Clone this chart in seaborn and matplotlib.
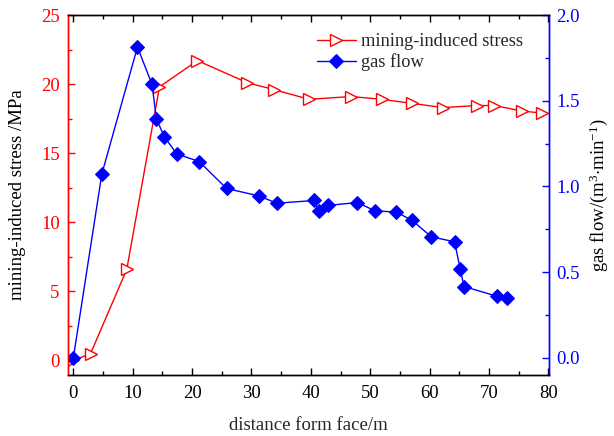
import matplotlib
matplotlib.use("Agg")
import matplotlib.pyplot as plt
from matplotlib.ticker import MultipleLocator
import seaborn as sns
import pandas as pd

stress_x = [0, 2.9, 9.0, 14.5, 20.9, 29.3, 33.8, 39.7, 46.8, 51.9, 57.1, 62.3, 67.9, 70.9, 75.6, 79.0]
stress_y = [0.0, 0.5, 6.6, 19.8, 21.7, 20.1, 19.6, 18.9, 19.1, 18.9, 18.6, 18.3, 18.45, 18.45, 18.05, 17.9]

gas_x = [0, 4.8, 10.8, 13.25, 14.0, 15.3, 17.4, 21.2, 25.8, 31.2, 34.3, 40.5, 41.3, 42.8,
         47.8, 50.8, 54.4, 57.0, 60.3, 64.2, 65.15, 65.8, 71.3, 73.1]
gas_y = [0.0, 1.073, 1.813, 1.595, 1.393, 1.291, 1.19, 1.145, 0.988, 0.945, 0.902, 0.918, 0.854, 0.889,
         0.906, 0.858, 0.85, 0.803, 0.706, 0.677, 0.517, 0.416, 0.36, 0.348]

x_label = "distance form face/m"
y1_label = "mining-induced stress /MPa"
y2_label = "gas flow/(m$^{3}$$\\cdot$min$^{-1}$)"
stress_name = "mining-induced stress"
gas_name = "gas flow"

sns.set_style("ticks")
plt.rcParams["font.family"] = ["Liberation Serif", "DejaVu Serif"]
plt.rcParams["mathtext.fontset"] = "custom"
plt.rcParams["mathtext.rm"] = "Liberation Serif"
plt.rcParams["mathtext.it"] = "Liberation Serif"
plt.rcParams["font.size"] = 13

fig = plt.figure(figsize=(6.14, 4.36), dpi=100)
ax = fig.add_axes([68 / 614, 1 - 375 / 436, (549 - 68) / 614, (375 - 15) / 436])
ax2 = ax.twinx()

df1 = pd.DataFrame({"x": stress_x, "y": stress_y})
df2 = pd.DataFrame({"x": gas_x, "y": gas_y})

sns.lineplot(data=df1, x="x", y="y", ax=ax, sort=False, color="red", lw=1,
             marker=">", markersize=8.5, markerfacecolor="white", markeredgecolor="red",
             markeredgewidth=1, label=stress_name, legend=False)
sns.lineplot(data=df2, x="x", y="y", ax=ax2, sort=False, color="blue", lw=1,
             marker="D", markersize=7, markerfacecolor="blue", markeredgecolor="blue",
             label=gas_name, legend=False)

ax.set_xlim(-0.9, 80.1)
ax.set_ylim(-1.05, 25)
ax2.set_ylim(-0.1, 2.0)

ax.xaxis.set_major_locator(MultipleLocator(10))
ax.xaxis.set_minor_locator(MultipleLocator(5))
ax.yaxis.set_major_locator(MultipleLocator(5))
ax.yaxis.set_minor_locator(MultipleLocator(2.5))
ax2.yaxis.set_major_locator(MultipleLocator(0.5))
ax2.yaxis.set_minor_locator(MultipleLocator(0.25))

ax.tick_params(axis="x", which="both", direction="in", top=True, bottom=True, colors="black", labelsize=13.5)
ax.tick_params(axis="x", which="major", length=5, width=1, pad=7)
ax.tick_params(axis="x", which="minor", length=3, width=1)
ax.tick_params(axis="y", which="both", direction="in", left=True, right=False, colors="red", labelsize=13.5)
ax.tick_params(axis="y", which="major", length=5, width=1, pad=6)
ax.tick_params(axis="y", which="minor", length=3, width=1)
ax2.tick_params(axis="y", which="both", direction="in", right=True, colors="blue", labelsize=13.5)
ax2.tick_params(axis="y", which="major", length=5, width=1, pad=5)
ax2.tick_params(axis="y", which="minor", length=3, width=1)
ax2.yaxis.set_major_formatter(plt.FuncFormatter(lambda v, p: f"{v:.1f}"))

for a in (ax, ax2):
    for s in a.spines.values():
        s.set_linewidth(1)
        s.set_color("black")
ax.spines["left"].set_color("red")
ax2.spines["left"].set_color("red")
ax2.spines["right"].set_color("blue")
ax.spines["right"].set_color("blue")

ax.set_xlabel(x_label, fontsize=13.5, labelpad=11)
ax.set_ylabel(y1_label, fontsize=13.5, color="black", labelpad=11)
ax2.set_ylabel(y2_label, fontsize=13.5, color="black", labelpad=6)

h1, l1 = ax.get_legend_handles_labels()
h2, l2 = ax2.get_legend_handles_labels()
leg = ax2.legend(h1 + h2, l1 + l2, loc="upper right", bbox_to_anchor=(0.98, 0.996), frameon=False,
                 fontsize=13.2, handlelength=2.13, handletextpad=0.27, labelspacing=0.2)

fig.savefig("out.png", dpi=100)
